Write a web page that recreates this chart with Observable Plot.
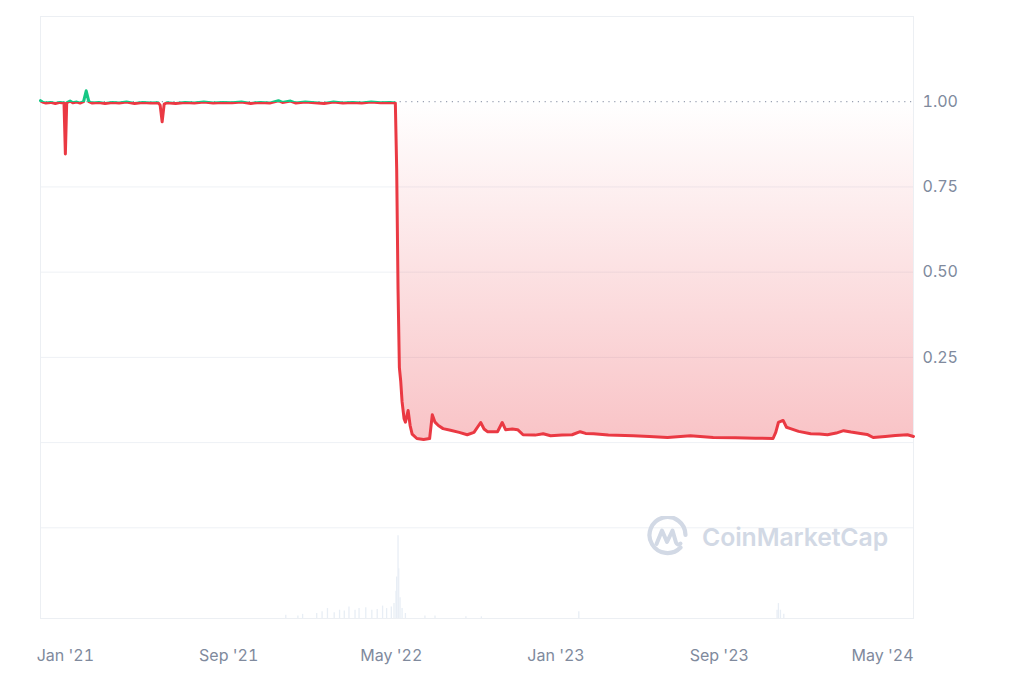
<!DOCTYPE html>
<html>
<head>
<meta charset="utf-8">
<script src="https://cdn.jsdelivr.net/npm/d3@7"></script>
<script src="https://cdn.jsdelivr.net/npm/@observablehq/plot@0.6"></script>
<style>
  html, body { margin: 0; padding: 0; background: #ffffff; }
  #wrap { position: relative; width: 1024px; height: 683px; overflow: hidden; }
  #wm { position: absolute; left: 647px; top: 516px; display: flex; align-items: center; gap: 13px;
        font-family: Inter, "Noto Sans", sans-serif; font-weight: 600; font-size: 24.8px; color: #d2d9e5; letter-spacing: -0.1px; }
</style>
</head>
<body>
<div id="wrap">
  <div id="chart"></div>
  <div id="wm">
    <svg width="42" height="42" viewBox="0 0 42 42">
      <path d="M33.5,31.5 A18,18 0 1 1 38.5,19" fill="none" stroke="#d2d9e5" stroke-width="4.2" stroke-linecap="round"/>
      <path d="M9.5,28 L15,14.5 L20,26 L25.5,14.5 L29,26.5 Q30.5,30 33.5,27.5" fill="none" stroke="#d2d9e5" stroke-width="4" stroke-linejoin="round" stroke-linecap="round"/>
    </svg>
    <span>CoinMarketCap</span>
  </div>
</div>
<script>
// ---- data: USTC price (USD) ----
const REF = 1.0; // opening reference price (dotted line)

const priceDates = [
  "2020-11-25","2020-11-28","2020-12-03","2020-12-10","2020-12-17","2020-12-24","2020-12-30",
  "2021-01-01","2021-01-03","2021-01-08","2021-01-12","2021-01-18","2021-01-23","2021-01-28",
  "2021-02-01","2021-02-05","2021-02-10","2021-02-20","2021-03-01","2021-03-12","2021-03-22",
  "2021-04-02","2021-04-14","2021-04-26","2021-05-08","2021-05-19","2021-05-22","2021-05-25",
  "2021-05-28","2021-06-01","2021-06-14","2021-06-28","2021-07-12","2021-07-26","2021-08-09",
  "2021-08-23","2021-09-06","2021-09-20","2021-10-04","2021-10-18","2021-11-01","2021-11-14",
  "2021-11-20","2021-12-02","2021-12-10","2021-12-24","2022-01-07","2022-01-21","2022-02-04",
  "2022-02-18","2022-03-04","2022-03-18","2022-04-01","2022-04-15","2022-04-29","2022-05-07",
  "2022-05-09","2022-05-11","2022-05-13","2022-05-15","2022-05-17","2022-05-20","2022-05-22",
  "2022-05-26","2022-05-29","2022-06-01","2022-06-08","2022-06-18","2022-06-27","2022-07-01",
  "2022-07-05","2022-07-10","2022-07-17","2022-07-28","2022-08-10","2022-08-22","2022-09-01",
  "2022-09-11","2022-09-16","2022-09-21","2022-10-06","2022-10-13","2022-10-18","2022-10-28",
  "2022-11-05","2022-11-13","2022-12-01","2022-12-13","2022-12-24","2023-01-10","2023-01-25",
  "2023-02-06","2023-02-14","2023-02-26","2023-03-20","2023-04-26","2023-05-20","2023-06-16",
  "2023-07-20","2023-08-23","2023-09-25","2023-10-25","2023-11-20","2023-11-24","2023-11-28",
  "2023-12-05","2023-12-10","2023-12-16","2023-12-28","2024-01-15","2024-01-28","2024-02-09",
  "2024-02-22","2024-03-04","2024-03-15","2024-03-29","2024-04-08","2024-04-17","2024-05-05",
  "2024-05-20","2024-06-07","2024-06-16"
];
const priceValues = [
  1.003,0.999,0.996,0.998,0.995,0.998,0.996,
  0.847,0.997,1.002,0.997,0.999,0.996,1.000,
  1.032,1.000,0.996,0.998,0.995,0.998,0.996,
  0.999,0.995,0.998,0.996,0.997,0.990,0.941,
  0.993,0.997,0.995,0.998,0.996,0.999,0.996,
  0.998,0.997,0.999,0.995,0.998,0.996,1.003,
  0.998,1.002,0.996,0.999,0.997,0.995,0.999,
  0.996,0.998,0.996,0.999,0.997,0.998,0.996,
  0.800,0.450,0.220,0.180,0.120,0.070,0.060,
  0.094,0.050,0.025,0.012,0.009,0.012,0.082,
  0.060,0.050,0.041,0.036,0.030,0.023,0.030,
  0.059,0.040,0.032,0.032,0.059,0.038,0.040,
  0.038,0.023,0.022,0.026,0.020,0.022,0.023,
  0.032,0.027,0.026,0.022,0.020,0.018,0.015,
  0.020,0.015,0.014,0.013,0.012,0.030,0.059,
  0.065,0.045,0.041,0.033,0.026,0.025,0.023,
  0.028,0.035,0.031,0.027,0.024,0.015,0.018,
  0.021,0.023,0.018
];

// ---- data: trading volume (relative units, bottom panel) ----
const volDates = [
  "2021-11-25","2021-12-13","2021-12-20","2022-01-10","2022-01-18","2022-01-26","2022-02-05",
  "2022-02-13","2022-02-20","2022-02-27","2022-03-08","2022-03-14","2022-03-24","2022-04-02",
  "2022-04-10","2022-04-18","2022-04-24","2022-05-01","2022-05-05","2022-05-08","2022-05-09",
  "2022-05-11","2022-05-12","2022-05-14","2022-05-17","2022-05-22","2022-06-20","2022-07-05",
  "2022-08-20","2022-09-12","2023-02-04","2023-11-26","2023-11-28","2023-12-01","2023-12-06"
];
const volValues = [
  0.4,0.3,0.5,0.6,0.8,1.2,0.7,
  1.0,0.9,1.4,1.0,1.2,1.3,1.0,
  1.1,1.5,1.2,1.4,1.8,3.3,5.0,
  10.0,6.0,2.5,1.2,0.6,0.3,0.3,
  0.2,0.2,0.8,1.0,1.8,1.0,0.5
];

// ---- axes ----
const xTickDates = ["2021-01-01","2021-09-01","2022-05-01","2023-01-01","2023-09-01","2024-05-01"];
const xTickLabels = ["Jan '21","Sep '21","May '22","Jan '23","Sep '23","May '24"];
const yTicks = [0.25, 0.5, 0.75, 1.0];
const gridValues = [1.25, 0.75, 0.5, 0.25, 0, -0.25];

const price = priceDates.map((d, i) => ({date: new Date(d), value: priceValues[i]}));
const volume = volDates.map((d, i) => ({date: new Date(d), value: volValues[i]}));
const tickMap = new Map(xTickDates.map((d, i) => [new Date(d).getTime(), xTickLabels[i]]));

const Y_MIN = -0.516, Y_MAX = 1.25;
const VOL_K = 0.0243; // volume units -> price-axis units (bottom panel)

const RED = "#ea3943", GREEN = "#16c784";
const vmax = d3.max(priceValues), vmin = d3.min(priceValues);
const splitOffset = (vmax - REF) / (vmax - vmin);

const chart = Plot.plot({
  width: 1024,
  height: 683,
  marginLeft: 40,
  marginRight: 111,
  marginTop: 16,
  marginBottom: 65,
  style: {fontFamily: "Inter, 'Noto Sans', sans-serif", fontSize: "16px", color: "#808a9d", background: "transparent", overflow: "visible"},
  x: {
    type: "utc",
    domain: [new Date("2020-11-25"), new Date("2024-06-16")],
    ticks: xTickDates.map(d => new Date(d)),
    tickFormat: d => tickMap.get(d.getTime()),
    tickSize: 0,
    tickPadding: 31,
    label: null
  },
  y: {
    domain: [Y_MIN, Y_MAX],
    axis: "right",
    ticks: yTicks,
    tickFormat: d3.format(".2f"),
    tickSize: 0,
    tickPadding: 9,
    label: null
  },
  marks: [
    Plot.ruleY(gridValues, {stroke: "#eef1f5", strokeWidth: 1}),
    Plot.frame({stroke: "#eceff3"}),
    Plot.ruleX(volume, {x: "date", y1: () => Y_MIN, y2: d => Y_MIN + d.value * VOL_K, stroke: "#e8eef5", strokeWidth: 1.3}),
    Plot.areaY(price, {x: "date", y1: () => REF, y2: d => Math.min(d.value, REF), fill: "url(#redFill)"}),
    Plot.areaY(price, {x: "date", y1: () => REF, y2: d => Math.max(d.value, REF), fill: GREEN, fillOpacity: 0.15}),
    Plot.ruleY([REF], {stroke: "#9aa1b2", strokeWidth: 1.2, strokeDasharray: "1.2,4.6"}),
    Plot.line(price, {x: "date", y: "value", stroke: "url(#lineStroke)", strokeWidth: 3, strokeLinejoin: "round", strokeLinecap: "round"})
  ]
});

const svg = d3.select(chart);
const defs = svg.insert("defs", ":first-child");
const rf = defs.append("linearGradient").attr("id", "redFill")
  .attr("x1", 0).attr("y1", 0).attr("x2", 0).attr("y2", 1);
rf.append("stop").attr("offset", 0).attr("stop-color", RED).attr("stop-opacity", 0.0);
rf.append("stop").attr("offset", 1).attr("stop-color", RED).attr("stop-opacity", 0.3);
const ls = defs.append("linearGradient").attr("id", "lineStroke")
  .attr("x1", 0).attr("y1", 0).attr("x2", 0).attr("y2", 1);
ls.append("stop").attr("offset", 0).attr("stop-color", GREEN);
ls.append("stop").attr("offset", splitOffset).attr("stop-color", GREEN);
ls.append("stop").attr("offset", splitOffset).attr("stop-color", RED);
ls.append("stop").attr("offset", 1).attr("stop-color", RED);

document.getElementById("chart").appendChild(chart);
</script>
</body>
</html>
